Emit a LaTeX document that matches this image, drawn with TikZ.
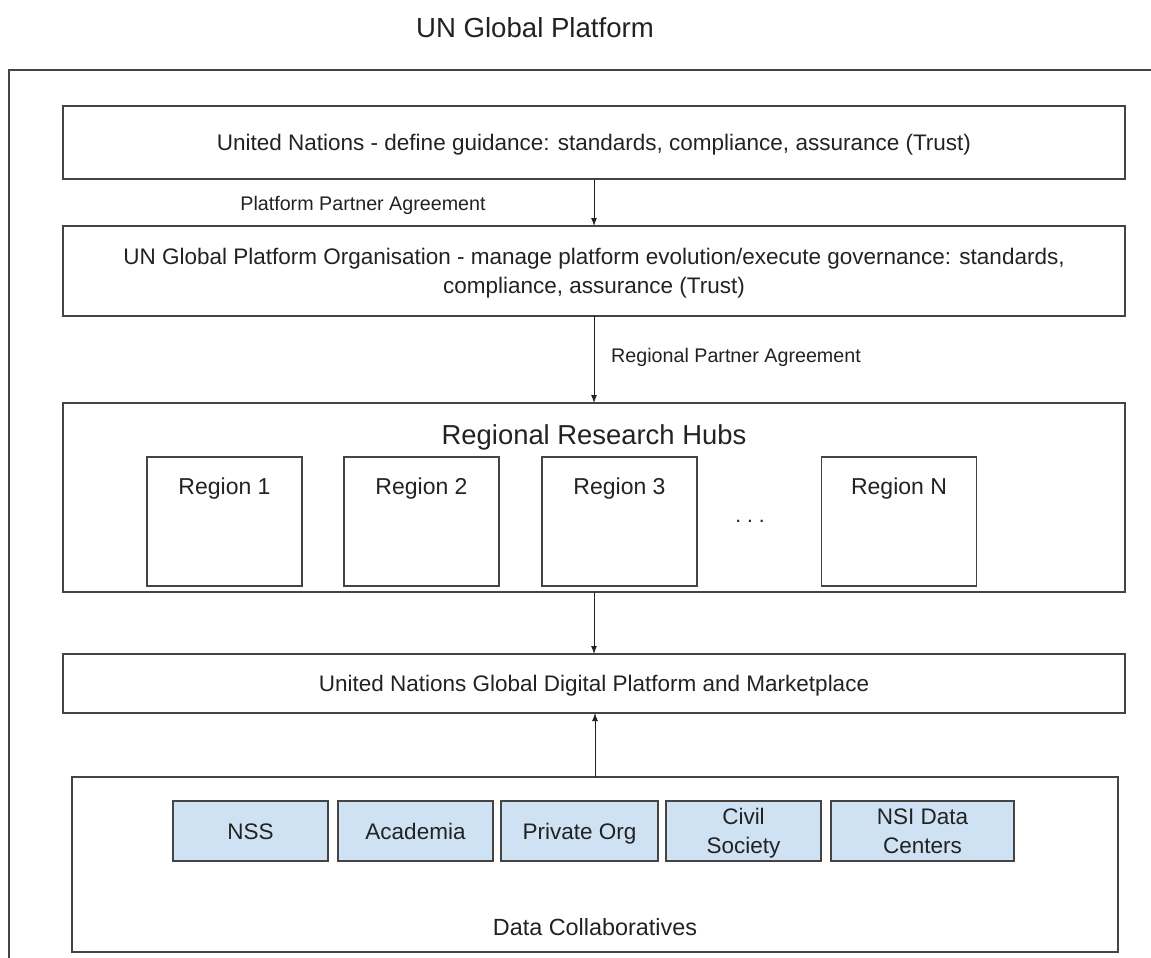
\documentclass[tikz,border=0pt]{standalone}
\usepackage{fontspec}
\setmainfont{Liberation Sans}
\usetikzlibrary{arrows.meta}
\definecolor{linegray}{HTML}{444444}
\definecolor{textgray}{HTML}{222222}
\definecolor{orgblue}{HTML}{CFE2F3}

\begin{document}
\begin{tikzpicture}[x=1pt,y=-1pt,
    box/.style={draw=linegray,line width=1.4pt,rectangle,inner sep=0pt,outer sep=0pt,align=center,text=textgray,font=\fontsize{22.5}{29}\selectfont},
    orgbox/.style={box,fill=orgblue,minimum width=155pt,minimum height=60pt},
    regbox/.style={box,minimum width=155pt,minimum height=129pt},
    lbl/.style={text=textgray,inner sep=0pt,font=\fontsize{19.7}{24}\selectfont,text height=16pt,text depth=1.9pt},
    oneline/.style={text height=18pt,text depth=1.9pt},
    twoline/.style={text height=47pt,text depth=1.9pt},
    arr/.style={-{Latex[length=8pt,width=6pt]},draw=textgray,line width=1pt}]
        \useasboundingbox (0,0) rectangle (1151,958);
        \clip (0,0) rectangle (1151,958);
        \node[text=textgray,font=\fontsize{27.6}{33}\selectfont,text height=22pt,text depth=2.2pt](title)at(535,28){UN Global Platform};
        \draw[draw=linegray,line width=1.3pt] (9,70) rectangle (1180,990);
        % top two layers
        \node[box,oneline,minimum width=1062pt,minimum height=73pt](un)at(594,142.5){United Nations - define guidance: standards, compliance, assurance (Trust)};
        \node[box,twoline,minimum width=1062pt,minimum height=90pt](org)at(594,271){UN Global Platform Organisation - manage platform evolution/execute governance: standards,\\compliance, assurance (Trust)};
        \node[lbl](ppa)at(363,203){Platform Partner Agreement};
        \node[lbl](rpa)at(736,355){Regional Partner Agreement};
        % hubs
        \node[box,minimum width=1062pt,minimum height=189pt](hubs)at(594,497.5){};
        \node[text=textgray,font=\fontsize{27.4}{33}\selectfont,text height=22pt,text depth=2.4pt](hubstitle)at(594,435){Regional Research Hubs};
        \node[regbox](r1)at(224.5,521.5){};
        \node[regbox](r2)at(421.5,521.5){};
        \node[regbox](r3)at(619.5,521.5){};
        \node[regbox](rn)at(899,521.5){};
        \node[text=textgray,font=\fontsize{21}{28}\selectfont](dots)at(750,521){.\hspace{6pt}.\hspace{6pt}.};
        \foreach \r/\t in {r1/Region 1,r2/Region 2,r3/Region 3,rn/Region N}
            \node[text=textgray,font=\fontsize{23}{28}\selectfont,text height=18.5pt,text depth=2pt](\r lab)at([yshift=-29pt]\r.north){\t};
        % platform and collaboratives
        \node[box,oneline,minimum width=1062pt,minimum height=59pt](market)at(594,683.5){United Nations Global Digital Platform and Marketplace};
        \node[box,minimum width=1046pt,minimum height=175pt](data)at(595,864.5){};
        \node[text=textgray,font=\fontsize{23.4}{28}\selectfont,text height=18.7pt,text depth=2pt](datalab)at(595,927){Data Collaboratives};
        \node[orgbox,oneline](nss)at(250.5,831){NSS};
        \node[orgbox,oneline](acad)at(415.5,831){Academia};
        \node[orgbox,oneline,minimum width=157pt](priv)at(579.5,831){Private Org};
        \node[orgbox,twoline](civil)at(743.5,831){Civil\\Society};
        \node[orgbox,twoline,minimum width=183pt](nsi)at(922.5,831){NSI Data\\Centers};
        \draw[arr](un)--(org);
        \draw[arr](org)--(hubs);
        \draw[arr](hubs)--(market);
        \draw[arr](data.north)--(data.north|-market.south);
    \end{tikzpicture}
\end{document}
